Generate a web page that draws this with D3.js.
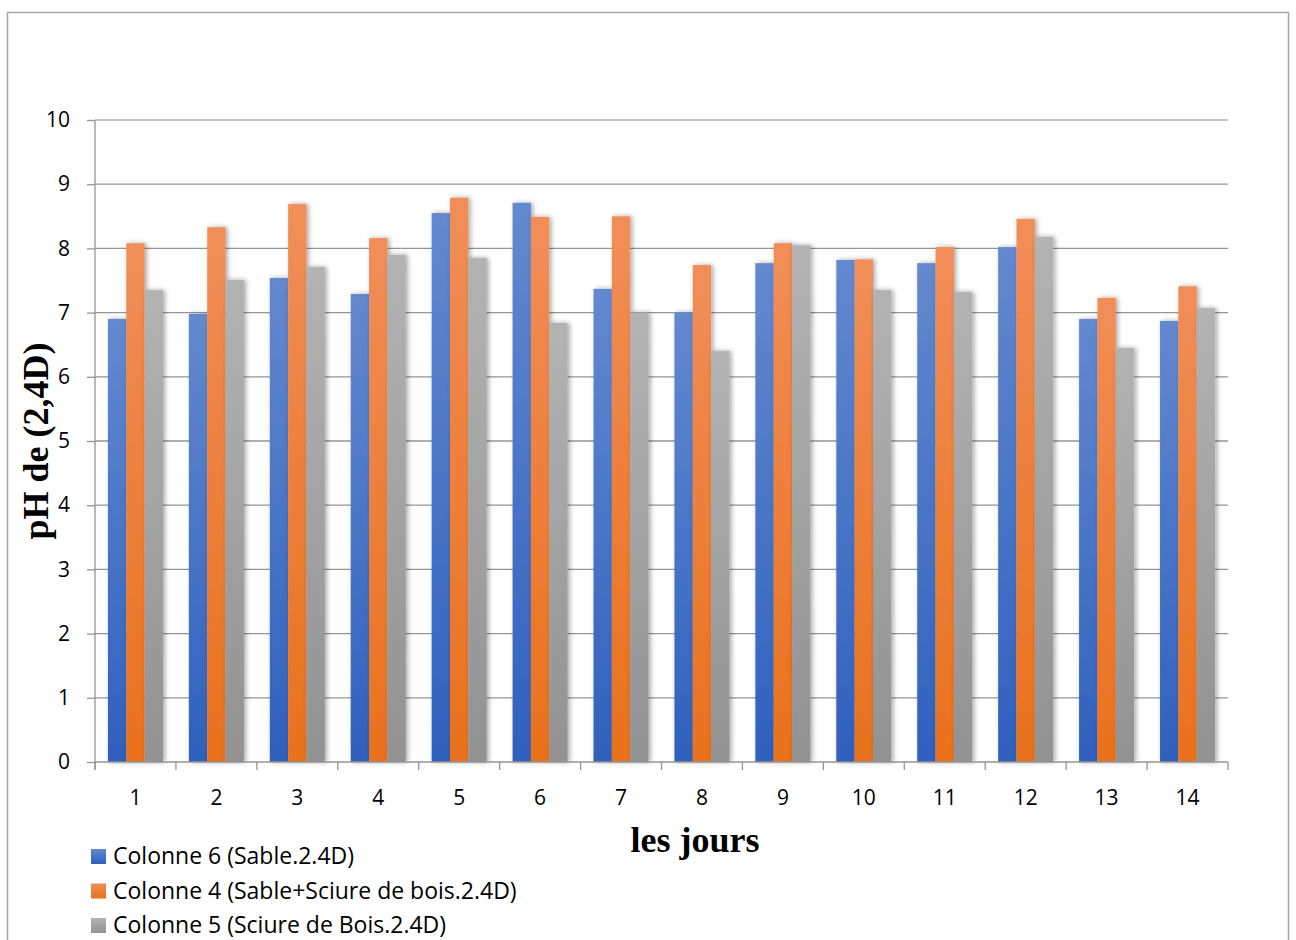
<!DOCTYPE html>
<html><head><meta charset="utf-8">
<script src="https://cdn.jsdelivr.net/npm/d3@7"></script>
<style>html,body{margin:0;padding:0;background:#fff;}svg{display:block;}</style>
</head><body>
<svg id="c" width="1296" height="940"></svg>
<script>
const days = ["1","2","3","4","5","6","7","8","9","10","11","12","13","14"];
const seriesNames = ["Colonne 6 (Sable.2.4D)", "Colonne 4 (Sable+Sciure de bois.2.4D)", "Colonne 5 (Sciure de Bois.2.4D)"];
const sable      = [6.90, 6.98, 7.54, 7.29, 8.55, 8.71, 7.37, 7.00, 7.77, 7.82, 7.77, 8.02, 6.90, 6.87];
const sableSciure= [8.08, 8.33, 8.69, 8.16, 8.79, 8.49, 8.50, 7.74, 8.08, 7.83, 8.02, 8.46, 7.23, 7.41];
const sciure     = [7.35, 7.51, 7.71, 7.90, 7.85, 6.84, 7.00, 6.40, 8.05, 7.35, 7.32, 8.18, 6.45, 7.07];
const yTicks = [0,1,2,3,4,5,6,7,8,9,10];
const gradStops = [["#6389cf","#2f60bd"],["#f18e59","#e9711c"],["#b3b3b3","#929292"]];

const series = [sable, sableSciure, sciure];
const svg = d3.select("#c");
const L = 95, R = 1228, T = 120, B = 762;

// frame
svg.append("rect").attr("x",7.5).attr("y",12.5).attr("width",1281).attr("height",940)
  .attr("fill","none").attr("stroke","#a6a6a6").attr("stroke-width",1.5);

const defs = svg.append("defs");
gradStops.forEach((g,i)=>{
  const lg = defs.append("linearGradient").attr("id","g"+i).attr("x1",0).attr("y1",0).attr("x2",0).attr("y2",1);
  lg.append("stop").attr("offset","0%").attr("stop-color",g[0]);
  lg.append("stop").attr("offset","100%").attr("stop-color",g[1]);
});
const f = defs.append("filter").attr("id","sh").attr("x","-50%").attr("y","-10%").attr("width","200%").attr("height","120%");
f.append("feDropShadow").attr("dx",2).attr("dy",0).attr("stdDeviation",2.5).attr("flood-color","#000").attr("flood-opacity",0.35);

const y = d3.scaleLinear().domain([0,10]).range([B,T]);
const x0 = d3.scaleBand().domain(days).range([L,R]).paddingInner(0.32).paddingOuter(0.16);
const x1 = d3.scaleBand().domain([0,1,2]).range([0,x0.bandwidth()]);

// gridlines
svg.append("g").selectAll("line").data(yTicks.filter(d=>d>0)).join("line")
  .attr("x1",L).attr("x2",R).attr("y1",d=>y(d)).attr("y2",d=>y(d))
  .attr("stroke",d=>d===10?"#b0b0b0":"#959595").attr("stroke-width",1.3);

// y axis
const ya = svg.append("g").attr("transform",`translate(${L},0)`)
  .call(d3.axisLeft(y).tickValues(yTicks).tickSize(8).tickPadding(17).tickFormat(d3.format("d")));
ya.select(".domain").attr("stroke","#959595").attr("stroke-width",1.3).attr("d",`M-0,${T}V${B+8}`);
ya.selectAll(".tick line").attr("stroke","#959595").attr("stroke-width",1.3);
ya.selectAll(".tick text").attr("font-family","'Open Sans', sans-serif").attr("font-size",21).attr("fill","#000");

// bars
const groups = svg.append("g").selectAll("g").data(days).join("g")
  .attr("transform",d=>`translate(${x0(d)},0)`);
groups.selectAll("rect").data((d,i)=>series.map((s,k)=>({k, v:s[i]}))).join("rect")
  .attr("x",d=>x1(d.k)).attr("width",x1.bandwidth())
  .attr("y",d=>y(d.v)).attr("height",d=>B-y(d.v))
  .attr("fill",d=>`url(#g${d.k})`).attr("filter","url(#sh)");

// x axis
const step = x0.step();
const xa = svg.append("g").attr("transform",`translate(0,${B})`);
xa.append("line").attr("x1",L).attr("x2",R).attr("stroke","#959595").attr("stroke-width",1.3);
xa.selectAll(".tk").data(d3.range(days.length+1)).join("line").attr("class","tk")
  .attr("x1",i=>L+i*step).attr("x2",i=>L+i*step).attr("y1",0).attr("y2",8)
  .attr("stroke","#959595").attr("stroke-width",1.3);
xa.selectAll("text").data(days).join("text")
  .attr("x",d=>x0(d)+x0.bandwidth()/2).attr("y",43)
  .attr("text-anchor","middle").attr("font-family","'Open Sans', sans-serif").attr("font-size",21).attr("fill","#000")
  .text(d=>d);

// axis titles
svg.append("text").attr("x",695).attr("y",852).attr("text-anchor","middle")
  .attr("font-family","'Liberation Serif', 'Times New Roman', serif").attr("font-weight","bold").attr("font-size",36)
  .text("les jours");
svg.append("text").attr("transform",`translate(48,${(T+B)/2}) rotate(-90)`).attr("text-anchor","middle")
  .attr("font-family","'Liberation Serif', 'Times New Roman', serif").attr("font-weight","bold").attr("font-size",36)
  .text("pH de (2,4D)");

// legend
const leg = svg.append("g").selectAll("g").data(seriesNames).join("g")
  .attr("transform",(d,i)=>`translate(91,${856+i*34.5})`);
leg.append("rect").attr("x",0).attr("y",-7).attr("width",15).attr("height",15).attr("fill",(d,i)=>`url(#g${i})`);
leg.append("text").attr("x",22).attr("y",0).attr("dy","0.35em")
  .attr("font-family","'Open Sans', sans-serif").attr("font-size",23).attr("fill","#000").text(d=>d);
</script>
</body></html>
